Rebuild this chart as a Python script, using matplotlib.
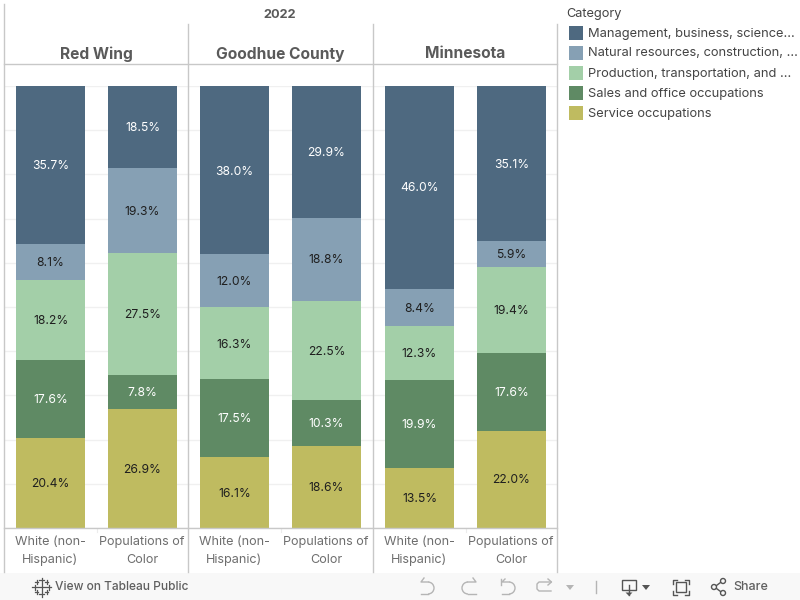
#!/usr/bin/env python
"""Occupation mix by place and population group, 2022 (stacked 100% bars)."""

import matplotlib
matplotlib.use("Agg")
import matplotlib.pyplot as plt
from matplotlib.lines import Line2D
from matplotlib.patches import Rectangle, Circle, Arc

plt.rcParams["font.family"] = ["Inter", "DejaVu Sans"]

W, H = 800, 600
GRID = "#f0f0f0"
RULE = "#c8c8c8"
INK = "#5a5a5a"
INK_2 = "#6e6e6e"
DARK = "#1f1f1f"
ICON = "#b5b5b5"
ICON_DARK = "#555555"

PLACES = ["Red Wing", "Goodhue County", "Minnesota"]
GROUPS = ["White (non-\nHispanic)", "Populations of\nColor"]
CATEGORIES = [
    "Management, business, science...",
    "Natural resources, construction, ...",
    "Production, transportation, and ...",
    "Sales and office occupations",
    "Service occupations",
]
COLORS = ["#4e6980", "#86a0b4", "#a3cfa8", "#5f8a64", "#bfbb60"]
LABEL_COLORS = ["white", DARK, DARK, "white", DARK]

# one list per category, bars in order: place 1 white, place 1 poc, place 2 white, ...
MANAGEMENT = [35.7, 18.5, 38.0, 29.9, 46.0, 35.1]
NATURAL = [8.1, 19.3, 12.0, 18.8, 8.4, 5.9]
PRODUCTION = [18.2, 27.5, 16.3, 22.5, 12.3, 19.4]
SALES = [17.6, 7.8, 17.5, 10.3, 19.9, 17.6]
SERVICE = [20.4, 26.9, 16.1, 18.6, 13.5, 22.0]
SERIES = [MANAGEMENT, NATURAL, PRODUCTION, SALES, SERVICE]

PANEL_EDGES = [4.5, 188.5, 373.5, 557.5]
PLOT_TOP, PLOT_BOTTOM = 86, 528
UNIT = 92  # pixels between the two bars of a panel


def fx(px):
    return px / W


def fy(px):
    return 1 - px / H


fig = plt.figure(figsize=(W / 100, H / 100), dpi=100, facecolor="white")

# overlay in pixel coordinates for rules, headers, legend and the toolbar
over = fig.add_axes([0, 0, 1, 1], zorder=5)
over.set_xlim(0, W)
over.set_ylim(H, 0)
over.axis("off")
over.patch.set_alpha(0)

for i, place in enumerate(PLACES):
    left, right = PANEL_EDGES[i], PANEL_EDGES[i + 1]
    ax = fig.add_axes([fx(left), fy(PLOT_BOTTOM), fx(right - left),
                       (PLOT_BOTTOM - PLOT_TOP) / H], zorder=1)
    ax.set_xlim(-0.5, -0.5 + (right - left) / UNIT)
    ax.set_ylim(0, 100)
    ax.axis("off")
    for y in range(0, 101, 10):
        ax.axhline(y, color=GRID, linewidth=1, zorder=0)
    for b in range(2):
        idx = i * 2 + b
        base = 0
        for s in range(len(SERIES) - 1, -1, -1):
            v = SERIES[s][idx]
            ax.bar(b, v, width=0.75, bottom=base, color=COLORS[s], zorder=2)
            ax.annotate(f"{v:.1f}%", (b, base + v / 2), xytext=(0, -0.8),
                        textcoords="offset points", ha="center", va="center",
                        fontsize=8.7, color=LABEL_COLORS[s], zorder=3)
            base += v
    centre = (left + right) / 2
    over.text(centre - 0.5, 58.5, place, ha="center", va="baseline", fontsize=11.2,
              fontweight="bold", color=INK)
    for b, group in enumerate(GROUPS):
        over.text(left + 45.5 + UNIT * b, 551, group, ha="center", va="center",
                  fontsize=9.1, color=INK_2, linespacing=1.65)
    over.add_line(Line2D([left + UNIT, left + UNIT], [528, 532], color="#ececec", lw=0.8))

over.text(280, 15.3, "2022", ha="center", va="center", fontsize=9.2,
          fontweight="bold", color=INK)

# panel rules
over.add_line(Line2D([4, 4], [4, 572], color=RULE, lw=1))
for x in PANEL_EDGES[1:]:
    over.add_line(Line2D([x - 0.5, x - 0.5], [24, 572], color=RULE, lw=1))
for y in (64, 528):
    over.add_line(Line2D([4, 557], [y, y], color=RULE, lw=1))

# legend
over.text(566, 13.5, "Category", ha="left", va="center", fontsize=9.2, color="#444444")
for i, (name, col) in enumerate(zip(CATEGORIES, COLORS)):
    y = 33 + 20 * i
    over.add_patch(Rectangle((569, y - 7), 14, 14, facecolor=col, edgecolor="none"))
    over.text(588, y + 0.5, name, ha="left", va="center", fontsize=9.25, color="#444444")

# toolbar
over.add_patch(Rectangle((0, 573), W, 27, facecolor="#f8f8f8", edgecolor="none"))
over.text(55, 587, "View on Tableau Public", ha="left", va="center", fontsize=8.6,
          fontweight="medium", color="#5f5f5f")
over.text(733, 587, "Share", ha="left", va="center", fontsize=9,
          fontweight="medium", color="#5f5f5f")
for cx, cy, r in [(41.5, 587, 3.5), (34.5, 587, 2.5), (48.5, 587, 2.5), (41.5, 580, 2.5),
                  (41.5, 594, 2.5), (36.5, 582, 1.8), (46.5, 582, 1.8),
                  (36.5, 592, 1.8), (46.5, 592, 1.8)]:
    over.add_line(Line2D([cx - r, cx + r], [cy, cy], color=ICON_DARK, lw=0.9))
    over.add_line(Line2D([cx, cx], [cy - r, cy + r], color=ICON_DARK, lw=0.9))

# undo / redo / revert / refresh
over.add_patch(Arc((428, 588), 12, 12, theta1=-90, theta2=90, color=ICON, lw=1))
over.add_line(Line2D([424, 421, 428], [578, 582, 582], color=ICON, lw=1))
over.add_line(Line2D([421, 428], [594, 594], color=ICON, lw=1))
over.add_patch(Arc((468, 588), 12, 12, theta1=90, theta2=270, color=ICON, lw=1))
over.add_line(Line2D([468, 476, 473], [582, 582, 578], color=ICON, lw=1))
over.add_line(Line2D([468, 476], [594, 594], color=ICON, lw=1))
over.add_patch(Arc((509, 588), 12, 12, theta1=-90, theta2=90, color=ICON, lw=1))
over.add_line(Line2D([501, 501], [579, 585], color=ICON, lw=1))
over.add_line(Line2D([505, 502, 509], [579, 582, 582], color=ICON, lw=1))
over.add_line(Line2D([502, 509], [594, 594], color=ICON, lw=1))
over.add_line(Line2D([551, 539, 537, 537, 539, 551], [582, 582, 584, 589, 591, 591], color=ICON, lw=1))
over.add_line(Line2D([548, 551.5, 548], [579, 582, 585], color=ICON, lw=1))
over.add_patch(plt.Polygon([[566, 585], [574, 585], [570, 590]], facecolor=ICON, edgecolor="none"))
over.add_line(Line2D([595.5, 595.5], [581, 593], color=ICON, lw=1))

# download
over.add_patch(Rectangle((622, 580), 14, 10, facecolor="none", edgecolor=ICON_DARK, lw=1))
over.add_line(Line2D([629, 629], [585, 595], color=ICON_DARK, lw=1))
over.add_patch(plt.Polygon([[625.5, 592.5], [632.5, 592.5], [629, 596]], facecolor=ICON_DARK))
over.add_patch(plt.Polygon([[642, 585], [650, 585], [646, 590]], facecolor=ICON_DARK, edgecolor="none"))

# fullscreen
over.add_patch(Rectangle((676, 582), 10, 10, facecolor="none", edgecolor=ICON_DARK, lw=1))
for cx, sx in ((673, 1), (689, -1)):
    for cy, sy in ((580, 1), (595, -1)):
        over.add_line(Line2D([cx, cx, cx + 4 * sx], [cy + 4 * sy, cy, cy], color=ICON_DARK, lw=1))

# share
for cx, cy in [(714, 587), (723, 581), (723, 593)]:
    over.add_patch(Circle((cx, cy), 2.5, facecolor="none", edgecolor=ICON_DARK, lw=1))
over.add_line(Line2D([716.5, 720.5], [585.5, 582.5], color=ICON_DARK, lw=1))
over.add_line(Line2D([716.5, 720.5], [588.5, 591.5], color=ICON_DARK, lw=1))

fig.savefig("out.png", dpi=100, facecolor="white")
